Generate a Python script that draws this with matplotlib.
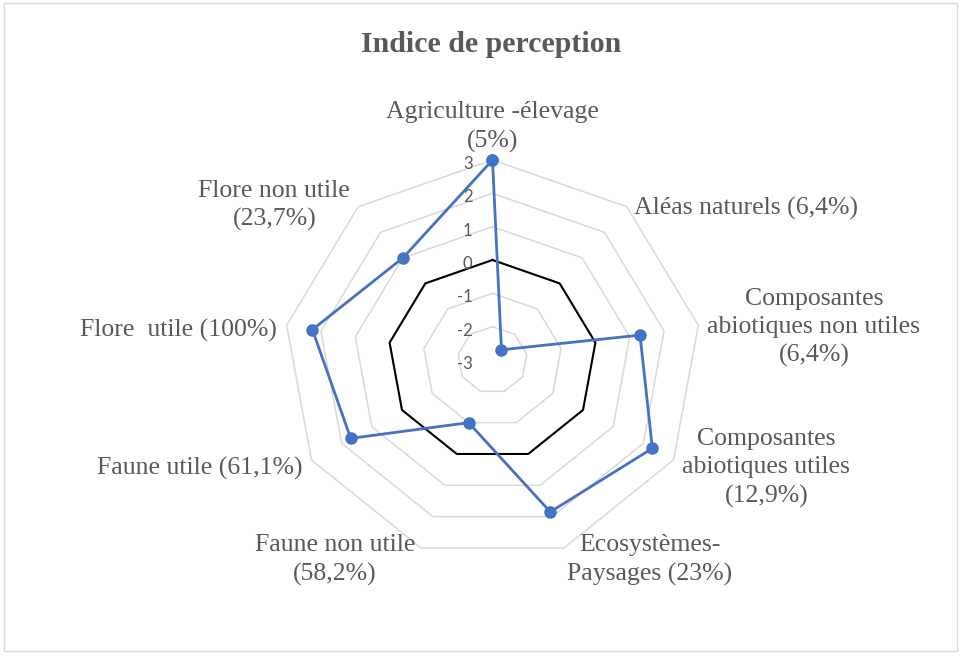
import numpy as np
import matplotlib.pyplot as plt
from matplotlib.patches import Rectangle

# ---------------------------------------------------------------------------
# DATA
# ---------------------------------------------------------------------------
categories = [
    "Agriculture -élevage\n(5%)",
    "Aléas naturels (6,4%)",
    "Composantes\nabiotiques non utiles\n(6,4%)",
    "Composantes\nabiotiques utiles\n(12,9%)",
    "Ecosystèmes-\nPaysages (23%)",
    "Faune non utile\n(58,2%)",
    "Faune utile (61,1%)",
    "Flore  utile (100%)",
    "Flore non utile\n(23,7%)",
]
indice = [3, -2.6, 1.3, 2.3, 1.85, -1, 1.7, 2.25, 1]
reference = [0, 0, 0, 0, 0, 0, 0, 0, 0]
levels = [-3, -2, -1, 0, 1, 2, 3]

# label layout: (dx, dy) in pixels from the outer vertex, horizontal alignment
label_layout = [
    ((0, 33), "center"),
    ((7, -2), "left"),
    ((9, -2), "left"),
    ((9, -8), "left"),
    ((3, -12), "left"),
    ((-6, -12), "right"),
    ((-9, -8), "right"),
    ((-10, -5), "right"),
    ((-8, 1), "right"),
]

GRID = "#d9d9d9"
TXT = "#595959"
BLUE = "#4472C4"

fig = plt.figure(figsize=(9.62, 6.59), dpi=100)
fig.patches.append(Rectangle((0.004, 0.012), 0.991, 0.984, transform=fig.transFigure,
                             fill=False, edgecolor=GRID, linewidth=1))

ax = fig.add_axes([283.5 / 962, 99 / 659, 418 / 962, 400 / 659], projection="polar")
ax.set_aspect("auto")
ax.set_theta_offset(np.pi / 2)
ax.set_theta_direction(-1)
ax.set_ylim(-3, 3)
ax.grid(False)
ax.set_xticks([])
ax.set_yticks([])
ax.spines["polar"].set_visible(False)
ax.patch.set_alpha(0)

n = len(categories)
theta = np.linspace(0, 2 * np.pi, n, endpoint=False)
theta_c = np.append(theta, theta[0])

# polygon rings
for lv in levels[1:]:
    ax.plot(theta_c, [lv] * (n + 1), color=GRID, lw=1.1, zorder=1, clip_on=False)

ax.plot(theta_c, reference + reference[:1], color="black", lw=1.5, zorder=2)
ax.plot(theta_c, indice + indice[:1], color=BLUE, lw=2, marker="o", ms=8, zorder=3,
        clip_on=False)

# radial tick labels
for lv in levels:
    ax.annotate(str(lv), xy=(0, lv), xytext=(-20, -4), textcoords="offset pixels",
                ha="right", va="center", fontsize=12, color=TXT, family="Lato")

# category labels
for t, lab, (off, ha) in zip(theta, categories, label_layout):
    ax.annotate(lab, xy=(t, 3), xytext=off, textcoords="offset pixels",
                ha=ha, va="center", multialignment="center", fontsize=18.5,
                color=TXT, family="Liberation Serif", linespacing=1.35)

fig.text(491 / 962, 1 - 45 / 659, "Indice de perception", ha="center", va="center",
         fontsize=21.5, fontweight="bold", color=TXT, family="Liberation Serif")

fig.savefig("out.png", dpi=100)
